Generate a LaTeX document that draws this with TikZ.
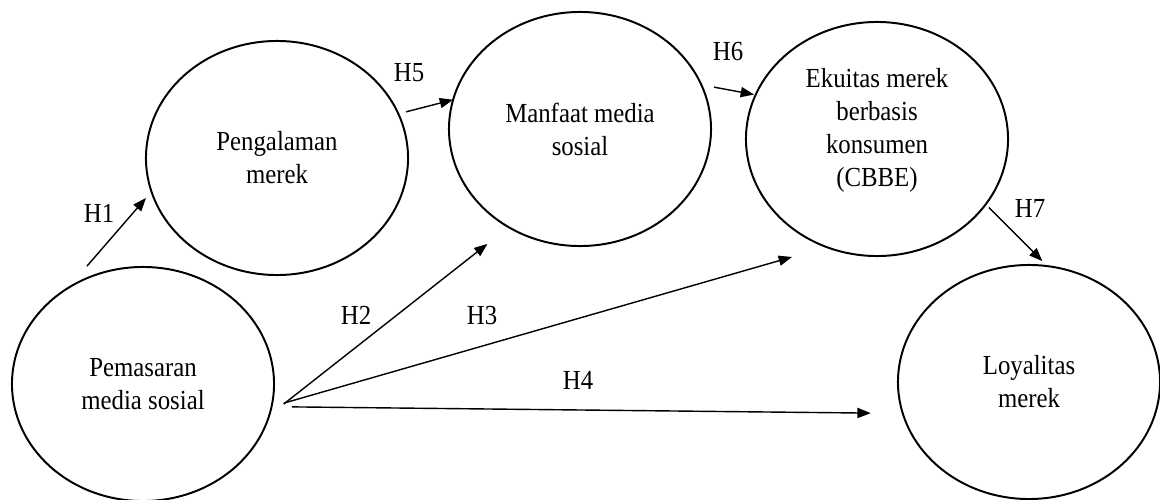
\documentclass[tikz,border=0pt]{standalone}
\usepackage{fontspec}
\setmainfont{Liberation Serif}[FakeStretch=0.9]
\usetikzlibrary{shapes.geometric,arrows.meta}
\begin{document}
\begin{tikzpicture}[x=0.025cm,y=-0.025cm,
  var/.style={ellipse, draw, line width=1.4pt, minimum width=6.55cm, minimum height=5.85cm, inner sep=0pt, outer sep=0pt, align=center, font=\fontsize{19.6}{23.5}\selectfont},
  hyp/.style={inner sep=0pt, font=\fontsize{19.6}{23.5}\selectfont},
  arr/.style={-{Triangle[length=9.5pt,width=7.2pt]}, line width=1pt}]
\useasboundingbox (0,0) rectangle (1160,500);
\node[var] (pem) at (143,384){Pemasaran\\media sosial};
\node[var] (peng) at (277,158){Pengalaman\\merek};
\node[var] (manf) at (580,129){Manfaat media\\sosial};
\node[var, text depth=16pt] (ekui) at (877,139){Ekuitas merek\\berbasis\\konsumen\\(CBBE)};
\node[var] (loya) at (1029,382){Loyalitas\\merek};
\node[hyp] (h1) at (99,213){H1};
\node[hyp] (h2) at (356,315){H2};
\node[hyp] (h3) at (482,316){H3};
\node[hyp] (h4) at (578,380){H4};
\node[hyp] (h5) at (409,73){H5};
\node[hyp] (h6) at (728,52){H6};
\node[hyp] (h7) at (1030,208){H7};
\draw[arr, shorten <=0.725cm, shorten >=0.21cm](pem.128.7) -- (peng.195.4);
\draw[arr, shorten <=0.46cm, shorten >=0.675cm](pem.346.5) -- (manf.234.3);
\draw[arr, shorten <=0.325cm, shorten >=0.9cm](pem.350) -- (ekui.245);
\draw[arr, shorten <=0.51cm, shorten >=0.8cm](pem.350) -- (loya.194.4);
\draw[arr, shorten <=0.2cm](peng.20) -- (manf.167.1);
\draw[arr, shorten <=0.32cm, shorten >=0.04cm](manf.20.7) -- (ekui.160.2);
\draw[arr, shorten <=0.11cm, shorten >=0.175cm](ekui.329.2) -- (loya.81.7);
\end{tikzpicture}
\end{document}
